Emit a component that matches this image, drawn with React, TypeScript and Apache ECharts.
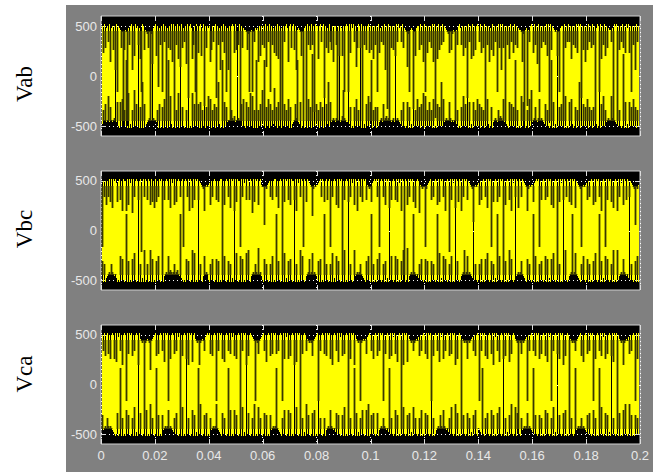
import React, { useEffect, useRef } from "react";
import * as echarts from "echarts";

const TIME_MAX = 0.2;
const TIME_STEP = 0.02;
const TIME_TICKS = [0, 0.02, 0.04, 0.06, 0.08, 0.1, 0.12, 0.14, 0.16, 0.18, 0.2];
const VOLT_MIN = -600;
const VOLT_MAX = 600;
const VOLT_TICKS = [-500, 0, 500];
const PANEL_NAMES = ["Vab", "Vbc", "Vca"];

// Each character is one sample column: how far the trace
// stays away from the rail (540 V). Digits: 20 V steps (ragged rail), letters: 28 V steps (gaps).
const LEVEL_CODES = "0123456789abcdefghijklmnopqrstuvwxyzABCDEFGHIJKLMNOPQRSTUVWXYZ";
const RAIL = 540;
const EDGE_STEP = 20;
const GAP_STEP = 28;

const vabUpper = `
s2e1c3 2a1h32 d2k1s2 34c5Ed 45E3b2 1k2f13 2b3gs1 2d456c 5J6i32
1f2q3b 2s1a2E 3c2d1h 1M2b1g 2j1c3a 2i1u21 3gb2s1 2e21f3 1x2c23
2hd2a2 1u2b3k 2a1e2s 3k2G21 2e1d3b 1G2c34 45d6s5 4s5a34 3h2f2b
2c1j2a 1s2b3e 2f1g2C 3E2a21 3h21c2 1d2k43 45f5J3 2J1b2d 1b2z12
2g21a2 1u2c3e 1ad2h2 2bH2f2 3f2s21 2s1e13 1a2jc1 2c1M2b 2d21e2
1d2g2b 2s1e3a 2b1k2y 1E2c2d 2f1a13 2a1c34 5j6s43 4y5f32 2d1b2h
1s2e2a 2c1h1B 2g1d2b 1a2345 6e5d64 5K4b21 3b2f2c 2u1a2g 1f2d21
2a1e2c 1J2b2h 3d1f2a 2s1c1k 1c2H2b 2g1a2e 1b2c34 45h6E4 3x4a21
2e1b2i 1s2c2a 2b1f1D 1d2345 4f5s32 2M1c2a 1a2g2b 2c1e12 1u2d2h
2d1a2c 1b2E31 2s1g2b 1f2c34 4a3M12 1H2d2a 1c2e13 1e2s2b 2k1a2f`;

const vabLower = `
s3a5c4 5f4b54 56J4d2 1d2e2a 2s1g13 1a2h2c 2E1b1k 1c2345 6h5s65
54a1c1 2b1e2d 1s2f31 2d1a2g 1M2b21 2a1h12 1g2c2E 2c1d1a 2u1b2f
2e1a2c 1b2k31 2s1d2b 4556a6 5745J6 54c2e2 1d2b2g 2f1a1s 1a2c2h
2s1b2e 1c2a3i 2b1d2f 1K2c2a 2e1b13 45c6s4 3d12a1 2d1e2b 1u2g2c
2a1d2b 1f2c3k 2d4565 46s5C4 57h654 4j3b12 1b2e2a 2E1c13 1c2f2d
2s1a2b 1b2456 4c5675 6g5456 4u5654 3a2d21 2d1b13 1H2a2e 2b1c2g
1f2a2d 2a1e12 1c2b2k 2e4565 5d6454 5s3a12 1b2f2c 2J1d13 1d2a2e
2c1b2a 1u2e31 2b1456 54a676 5e4532 1d2c2b 2s1a12 1f2d31 2a1e2h
456b54 6e5654 3c2a21 2s1d13 1M2b2c 2a1f12 1d2e31 2b1a2k 1g2c2b
2e1b2a 1b2d31 2s1c2f 2a4565 5f6454 3c2a21 2u1d13 1d2b2e 2b1a2c`;

const vbcUpper = `
1s2a2d 2a1c1e 1213c2 1b2f12 2f1d13 1g1a21 2b21u2 1a12b1 2d1c2e
1c2a12 1J2b21 2b1e13 1d1c21 2a21s2 12a1f1 2e1b12 1b2345 6f5454
3d2a21 2b2c21 1M2d21 2a1e12 1f1c12 2s1a13 1b12b1 2g1c12 1d2145
5k5643 2a2b21 1a2e21 2E1c12 1b1d12 2b1f13 1a12s1 2c1234 5h6454
4321a1 2c21b2 1s2a21 2d1e12 1H2b21 2c1a13 1d12f1 2a1c12 1b4565
4c3212 1a1s21 2a1d12 1e2b21 2b1c13 1f12K1 2d1a12 1c2e21 2g4565
5s6432 1b2a21 2d1c12 1a2f21 2u1b13 1e12c1 2f1a12 1b2345 6j5454
3d2b21 2a1e12 1s2c21 2c1a12 1M2d21 2b1f13 1a12e1 2a1234 5f6454
4c3212 1s2b21 2b1a12 1d2e21 2G1c13 1b12a1 2c1d12 1e2345 6s5454
3b2a21 2d1c12 1a2f21 2s1b12 1c2e21 2f1a13 1d12b1 2a2345 6k5643`;

const vbcLower = `
2b1a13 4565a6 545312 1d2c21 2s1b12 1c2e21 2E1a13 1f12a1 2f1c12
1b2d21 2s1456 5d6765 6a5675 4s3212 1c2b21 2f1e12 1J2a21 4d5652
1a2c21 2c1b12 1s2d21 2b1a13 1M2e21 2d1c12 1e2f21 4565a6 5g5642
1c2a21 2a1d12 1s2b21 2d1e13 1b2c21 2H1a12 1f2d21 2456c5 6e5654
2b1c12 1s2a21 2a1e13 1d2b21 2c1f12 1K2a21 2f4565 6a5432 1b2d21
2s1a12 1c2e21 2a1b13 1E2d21 2d1c12 1b2f21 2g1456 5s6545 3a2c21
2c1b12 1b2a21 2s1e13 1d2c21 2a1d12 1M2b21 2456f5 6d5654 3s2a21
2a1c12 1c2e21 2b1a13 1s2d21 2d1b12 1f2c21 2G4565 6b5432 1c2a21
2s1d12 1a2b21 2d1c13 1c2e21 2b1a12 1J2f21 2456s5 6e5432 1a2d21
2c1a12 1b2e21 2s1b13 1d2c21 2a1f12 1f2456 5c6545 3K2a21 2b1d12`;

const vcaUpper = `
s2a1c2 1b2d21 2d1e13 1a2f21 2s1b12 1c2a21 2f1456 5E6545 6h5432
1c2b21 2a1e12 1s2d21 2b1a13 1M2c21 2d1f12 1e2145 65f654 5a3212
1b2c21 2s1a12 1d2e21 2a1b13 1c2d21 2J1a12 1f2c21 2345s5 6b5432
1a2e21 2c1b12 1b2a21 2s1d13 1d2c21 2f1e12 1H2b21 2a4565 6c5432
1s2a21 2b1c12 1d2f21 2a1e13 1c2b21 2E1d12 1f2456 5s6545 4b3212
1a2d21 2c1a12 1s2b21 2d1c13 1b2e21 2K1f12 1e2456 5a6545 3c2a21
2b1d12 1s2c21 2a1e13 1d2a21 2c1b12 1f2d21 2M4565 6d5654 3a2c21
2s1a12 1c2d21 2b1f13 1a2e21 2d1c12 1e2b21 2456G5 6b5654 3s2a21
2a1c12 1d2b21 2c1e13 1s2a21 2b1d12 1f2c21 2J4565 6a5432 1c2e21
2b1a12 1s2d21 2a1c13 1d2b21 2c1e12 1E2456 5f6545 3b2a21 2s1d12`;

const vcaLower = `
2b4565 a65654 3212c1 2s1a12 1d2b21 2a1e13 1E2c21 2c1d12 1f2a21
2s1b12 1b4565 6d5654 3a2c21 2c1e12 1M2a21 2d1b13 1s2f21 2b1c12
1a4565 6f5432 1c2a21 2s1d12 1d2b21 2b1e13 1H2c21 2a1f12 1e2a21
2c1b12 1b4565 6s5432 1a2d21 2d1c12 1J2e21 2b1a13 1f2b21 2c1d12
1s2a21 2a1456 5d6545 3c2b21 2b1e12 1E2a21 2s1c13 1a2d21 2d1f12
1b2c21 2c1456 5a6545 3s2a21 2d1b12 1K2e21 2b1c13 1e2a21 2a1d12
1c2b21 2s1a12 4565b6 5d6545 3a2e21 2f1c12 1M2b21 2c1a13 1b2d21
5432s2 1a2c21 2d1b12 1c2e21 2G1a13 1b2f21 2e1c12 1a4565 6c5654
3s2b21 2b1a12 1d2c21 2a1e13 1J2b21 2c1d12 1f2a21 2s4565 6a5654
3b2c21 2d1a12 1s2e21 2c1b13 1E2a21 2a1c12 1d2f21 2f1b12 1b2a21`;

const PANEL_TRACES = [
  [vabUpper, vabLower],
  [vbcUpper, vbcLower],
  [vcaUpper, vcaLower],
];

function codeDepth(ch: string): number {
  const k = Math.max(0, LEVEL_CODES.indexOf(ch || "2"));
  return k < 10 ? k * EDGE_STEP : 10 * EDGE_STEP + (k - 10) * GAP_STEP;
}

function decodeTrace(upper: string, lower: string): number[][] {
  const u = upper.replace(/\s+/g, "");
  const l = lower.replace(/\s+/g, "");
  const n = Math.max(u.length, l.length);
  const dt = TIME_MAX / n;
  const rows: number[][] = [];
  for (let i = 0; i < n; i++) {
    rows.push([i * dt, (i + 1) * dt, -RAIL + codeDepth(l[i]), RAIL - codeDepth(u[i])]);
  }
  return rows;
}

const GRIDS = [
  { left: 101, top: 16, width: 539, height: 120 },
  { left: 101, top: 171, width: 539, height: 119 },
  { left: 101, top: 325, width: 539, height: 119 },
];
const NAME_Y = [84, 229, 374];

const TICK_COLOR = "#dcdcdc";
const LABEL_COLOR = "#e8e8e8";
const LABEL_FONT = "Liberation Sans";
const TICK_LEN = 5;
const GAP_COLOR = "#383800";
const GAP_LIMIT = 450;

export default function App() {
  const ref = useRef<HTMLDivElement>(null);

  useEffect(() => {
    if (!ref.current) return;
    const chart = echarts.init(ref.current, null, { renderer: "svg" });

    const grid = GRIDS.map((g) => ({
      ...g,
      show: true,
      backgroundColor: "#000000",
      borderColor: "#d0d0d0",
      borderWidth: 1,
      containLabel: false,
    }));

    const xAxis: any[] = GRIDS.map((_, i) => ({
      gridIndex: i,
      type: "value",
      min: 0,
      max: TIME_MAX,
      interval: TIME_STEP,
      position: "bottom",
      axisLine: { show: false },
      axisTick: { show: false },
      axisLabel: {
        show: i === 2,
        color: LABEL_COLOR,
        fontFamily: LABEL_FONT,
        fontSize: 13,
        margin: 5,
      },
      splitLine: { show: true, lineStyle: { color: "#ffffff", type: [1, 3], width: 1 } },
    }));
    const yAxis: any[] = GRIDS.map((_, i) => ({
      gridIndex: i,
      type: "value",
      min: VOLT_MIN,
      max: VOLT_MAX,
      position: "left",
      axisLine: { show: false },
      axisTick: { show: false },
      axisLabel: {
        customValues: VOLT_TICKS,
        color: LABEL_COLOR,
        fontFamily: LABEL_FONT,
        fontSize: 13,
        margin: 4,
      },
      splitLine: { show: false },
    }));

    const series: any[] = [];
    GRIDS.forEach((_, i) => {
      series.push({
        type: "custom",
        xAxisIndex: i,
        yAxisIndex: i,
        silent: true,
        clip: false,
        encode: { x: 0, y: 1 },
        data: VOLT_TICKS.map((v) => [0, v]),
        renderItem: (params: any, api: any) => {
          const cs = params.coordSys;
          const y = Math.round(api.coord([0, api.value(1)])[1]) + 0.5;
          return {
            type: "line",
            shape: { x1: cs.x, y1: y, x2: cs.x + cs.width, y2: y },
            style: { stroke: "#ffffff", lineWidth: 1, lineDash: [1, 3] },
          };
        },
      });
      const [up, lo] = PANEL_TRACES[i];
      series.push({
        type: "custom",
        xAxisIndex: i,
        yAxisIndex: i,
        silent: true,
        clip: true,
        encode: { x: [0, 1], y: [2, 3] },
        data: decodeTrace(up, lo),
        renderItem: (params: any, api: any) => {
          const cs = params.coordSys;
          const xl = cs.x + 1;
          const xr = cs.x + cs.width - 1;
          const x0 = Math.max(xl, Math.round(api.coord([api.value(0), 0])[0]));
          const x1 = Math.min(xr, Math.round(api.coord([api.value(1), 0])[0]));
          if (x1 <= x0) return { type: "group", children: [] };
          const yHi = Math.round(api.coord([0, api.value(3)])[1]);
          const yLo = Math.round(api.coord([0, api.value(2)])[1]);
          const yGT = Math.round(api.coord([0, GAP_LIMIT])[1]);
          const yGB = Math.round(api.coord([0, -GAP_LIMIT])[1]);
          const w = x1 - x0;
          const children: any[] = [];
          if (yLo > yHi) {
            children.push({
              type: "rect",
              z2: 1,
              shape: { x: x0, y: yHi, width: w, height: yLo - yHi },
              style: { fill: "#ffff00" },
            });
          }
          const gapTopEnd = Math.min(yHi, yGB);
          if (gapTopEnd > yGT) {
            children.push({
              type: "rect",
              z2: 2,
              shape: { x: x0 - 0.4, y: yGT, width: w + 0.8, height: gapTopEnd - yGT },
              style: { fill: GAP_COLOR },
            });
          }
          const gapBotStart = Math.max(yLo, yGT);
          if (yGB > gapBotStart && yLo > yHi) {
            children.push({
              type: "rect",
              z2: 2,
              shape: { x: x0 - 0.4, y: gapBotStart, width: w + 0.8, height: yGB - gapBotStart },
              style: { fill: GAP_COLOR },
            });
          }
          return { type: "group", children };
        },
      });
      series.push({
        type: "custom",
        xAxisIndex: i,
        yAxisIndex: i,
        silent: true,
        clip: false,
        encode: { x: 0, y: 1 },
        data: TIME_TICKS.map((t) => [t, 0]),
        renderItem: (params: any, api: any) => {
          const cs = params.coordSys;
          const x = Math.round(api.coord([api.value(0), 0])[0]) + 0.5;
          const yt = cs.y;
          const yb = cs.y + cs.height;
          const st = { stroke: TICK_COLOR, lineWidth: 1 };
          return {
            type: "group",
            children: [
              { type: "line", shape: { x1: x, y1: yt, x2: x, y2: yt + TICK_LEN }, style: st },
              { type: "line", shape: { x1: x, y1: yb, x2: x, y2: yb - TICK_LEN }, style: st },
            ],
          };
        },
      });
      series.push({
        type: "custom",
        xAxisIndex: i,
        yAxisIndex: i,
        silent: true,
        clip: false,
        encode: { x: 0, y: 1 },
        data: VOLT_TICKS.map((v) => [0, v]),
        renderItem: (params: any, api: any) => {
          const cs = params.coordSys;
          const y = Math.round(api.coord([0, api.value(1)])[1]) + 0.5;
          const xl = cs.x;
          const xr = cs.x + cs.width;
          const st = { stroke: TICK_COLOR, lineWidth: 1 };
          return {
            type: "group",
            children: [
              { type: "line", shape: { x1: xl, y1: y, x2: xl + TICK_LEN, y2: y }, style: st },
              { type: "line", shape: { x1: xr, y1: y, x2: xr - TICK_LEN, y2: y }, style: st },
            ],
          };
        },
      });
    });

    const graphic = PANEL_NAMES.map((name, i) => ({
      type: "text",
      x: 24,
      y: NAME_Y[i],
      rotation: Math.PI / 2,
      silent: true,
      style: {
        text: name,
        fill: "#000000",
        font: '23px "Liberation Serif"',
        align: "center",
        verticalAlign: "middle",
        textAlign: "center",
        textVerticalAlign: "middle",
      },
    }));

    chart.setOption({
      animation: false,
      backgroundColor: "transparent",
      grid,
      xAxis,
      yAxis,
      series,
      graphic,
    } as any);

    return () => chart.dispose();
  }, []);

  return (
    <div style={{ position: "absolute", left: 0, top: 0, width: 653, height: 472, background: "#ffffff" }}>
      <div style={{ position: "absolute", left: 66, top: 5, width: 587, height: 467, background: "#808080" }} />
      <div ref={ref} style={{ position: "absolute", left: 0, top: 0, width: 653, height: 472 }} />
    </div>
  );
}
